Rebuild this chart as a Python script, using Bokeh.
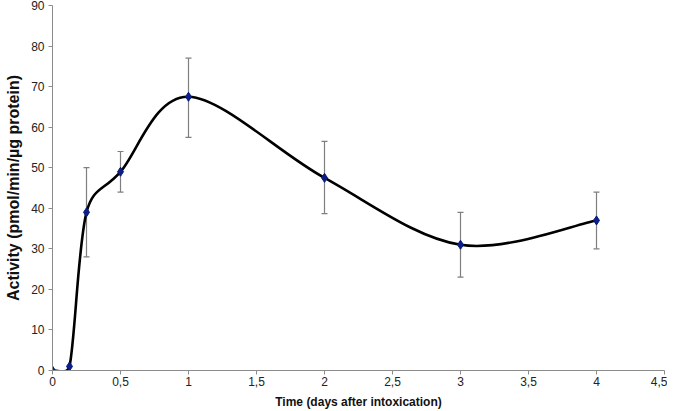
from bokeh.plotting import figure
from bokeh.models import ColumnDataSource, Whisker, TeeHead, FixedTicker, Range1d
from bokeh.embed import file_html
from bokeh.resources import INLINE

# ---- data ----
days = [0, 0.125, 0.25, 0.5, 1, 2, 3, 4]
activity = [0, 1, 39, 49, 67.5, 47.5, 31, 37]
err_low = [0, 1, 28, 44, 57.5, 38.7, 23, 30]
err_high = [0, 1, 50, 54, 77, 56.5, 39, 44]
x_ticks = [0, 0.5, 1, 1.5, 2, 2.5, 3, 3.5, 4, 4.5]
y_ticks = [0, 10, 20, 30, 40, 50, 60, 70, 80, 90]

FONT = "Liberation Sans"
W, H = 667, 411
BL, BR, BT, BB = 52, 3, 5, 41

p = figure(width=W, height=H, output_backend="svg", toolbar_location=None,
           x_range=Range1d(0, 4.5), y_range=Range1d(0, 90),
           min_border_left=BL, min_border_right=BR, min_border_top=BT, min_border_bottom=BB)
p.outline_line_color = None
p.xgrid.visible = False
p.ygrid.visible = False

# smoothed line (Excel-like bezier smoothing, computed in screen space)
sx = (W - BL - BR) / 4.5
sy = (H - BT - BB) / 90.0
pts = [(x * sx, y * sy) for x, y in zip(days, activity)]
n = len(pts)
x0s, y0s, x1s, y1s, cx0, cy0, cx1, cy1 = [], [], [], [], [], [], [], []

def dist(a, b):
    return ((a[0] - b[0]) ** 2 + (a[1] - b[1]) ** 2) ** 0.5

for i in range(n - 1):
    P0 = pts[i - 1] if i > 0 else pts[i]
    P1 = pts[i]
    P2 = pts[i + 1]
    P3 = pts[i + 2] if i + 2 < n else pts[i + 1]
    d12 = dist(P1, P2)
    d02 = dist(P0, P2)
    d13 = dist(P1, P3)
    f = 1 / 6
    if d02 > 0 and d02 / 6 > d12 / 2:
        f = 0.5 * d12 / d02
    g = 1 / 6
    if d13 > 0 and d13 / 6 > d12 / 2:
        g = 0.5 * d12 / d13
    c1 = (P1[0] + f * (P2[0] - P0[0]), P1[1] + f * (P2[1] - P0[1]))
    c2 = (P2[0] - g * (P3[0] - P1[0]), P2[1] - g * (P3[1] - P1[1]))
    x0s.append(P1[0] / sx); y0s.append(P1[1] / sy)
    x1s.append(P2[0] / sx); y1s.append(P2[1] / sy)
    cx0.append(c1[0] / sx); cy0.append(c1[1] / sy)
    cx1.append(c2[0] / sx); cy1.append(c2[1] / sy)

p.bezier(x0=x0s, y0=y0s, x1=x1s, y1=y1s, cx0=cx0, cy0=cy0, cx1=cx1, cy1=cy1,
         line_color="black", line_width=2.6)

# error bars
idx = [i for i in range(n) if err_high[i] > err_low[i]]
esrc = ColumnDataSource(dict(x=[days[i] for i in idx],
                             lo=[err_low[i] for i in idx],
                             hi=[err_high[i] for i in idx]))
wh = Whisker(base="x", lower="lo", upper="hi", source=esrc, dimension="height",
             line_color="#7f7f7f", line_width=1.2,
             upper_head=TeeHead(size=6, line_color="#7f7f7f", line_width=1.2),
             lower_head=TeeHead(size=6, line_color="#7f7f7f", line_width=1.2))
p.add_layout(wh)

# markers
p.scatter(days, activity, marker="diamond", size=9, fill_color="#0a1f8f",
          line_color="#0a1a70", line_width=1)

# axes
p.xaxis.ticker = FixedTicker(ticks=x_ticks)
p.xaxis.major_label_overrides = {t: (f"{t:g}").replace(".", ",") for t in x_ticks}
p.yaxis.ticker = FixedTicker(ticks=y_ticks)
for ax in (p.xaxis[0], p.yaxis[0]):
    ax.axis_line_color = "#8c8c8c"
    ax.major_tick_line_color = "#8c8c8c"
    ax.major_tick_in = 0
    ax.major_tick_out = 4
    ax.minor_tick_line_color = None
    ax.major_label_text_font = FONT
    ax.major_label_text_font_size = "12px"
    ax.major_label_text_color = "#222222"
    ax.axis_label_text_font = FONT
    ax.axis_label_text_font_style = "bold"
    ax.axis_label_text_color = "#111111"
p.xaxis.axis_label_text_font_size = "12px"
p.yaxis.axis_label_text_font_size = "16px"
p.xaxis.axis_label = "Time (days after intoxication)"
p.yaxis.axis_label = "Activity (pmol/min/µg protein)"
p.xaxis.major_label_standoff = 2
p.xaxis.axis_label_standoff = 6
p.yaxis.major_label_standoff = 4
p.yaxis.axis_label_standoff = 6

open("out.html", "w").write(file_html(p, INLINE))
